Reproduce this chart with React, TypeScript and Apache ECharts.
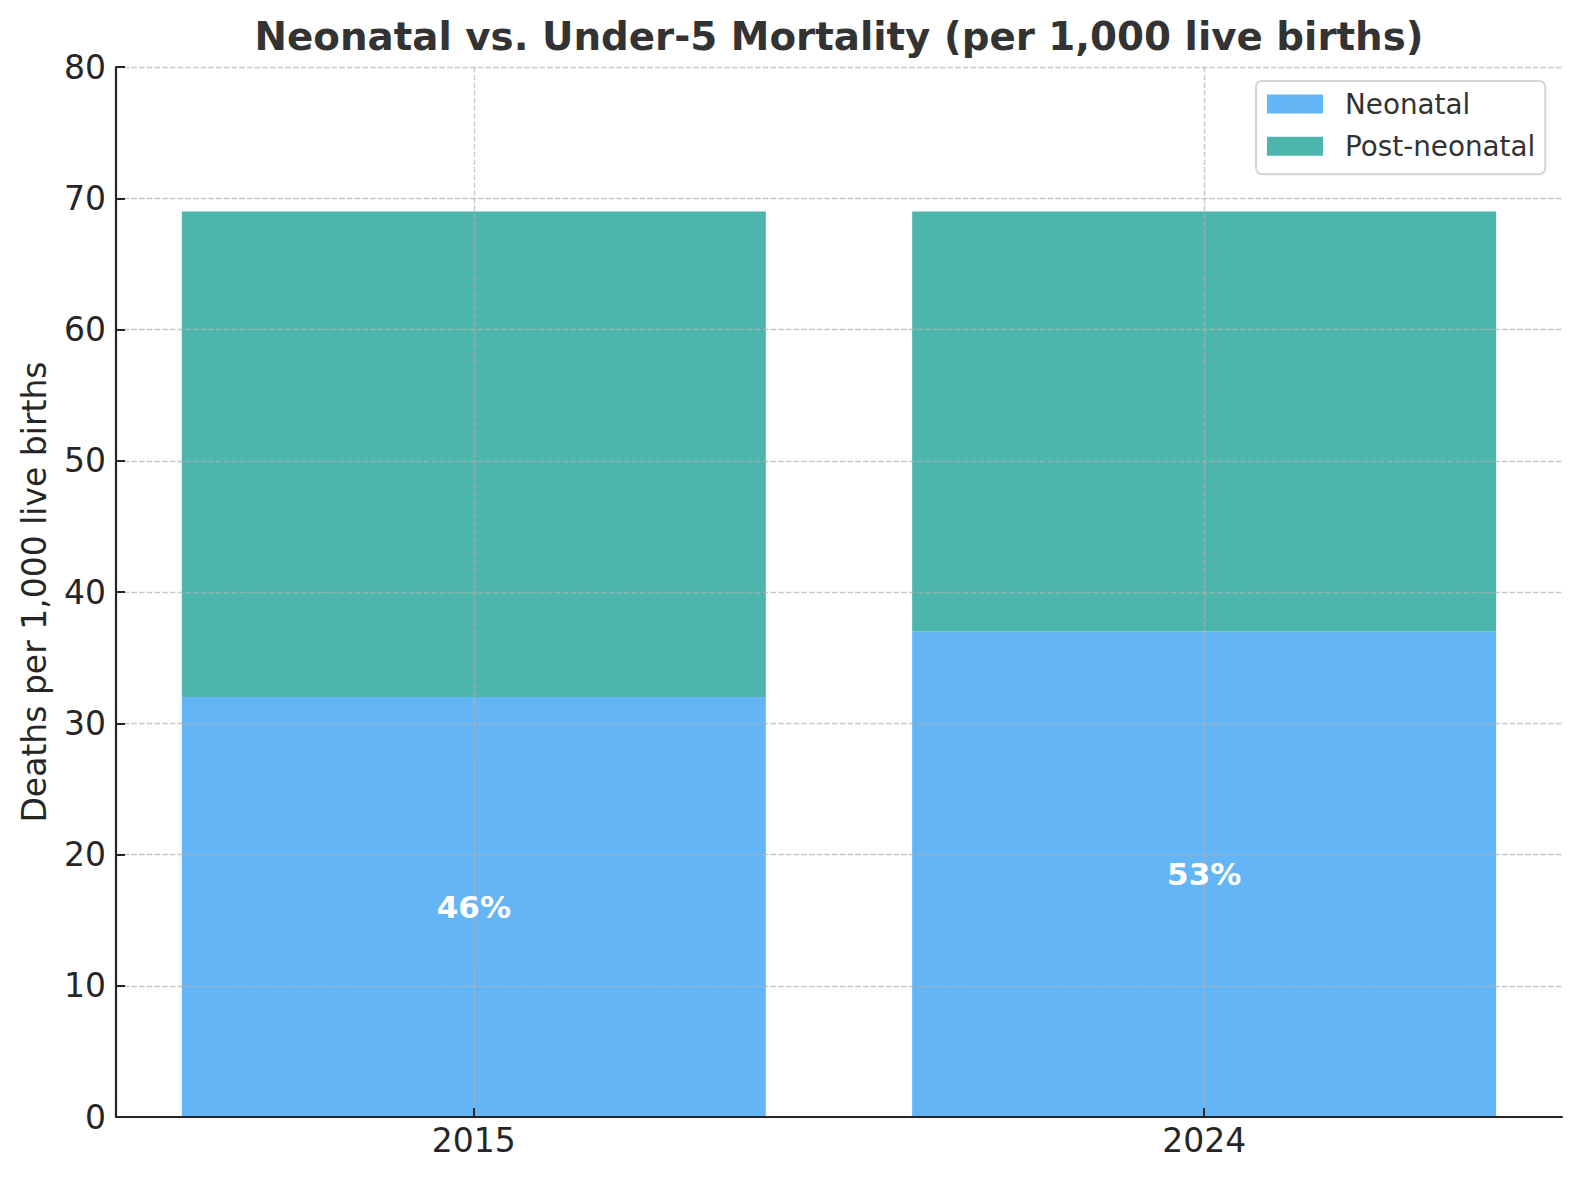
import { useEffect, useRef } from "react";
import * as echarts from "echarts";

const years = ["2015", "2024"];
const neonatal = [32, 37];
const postNeonatal = [37, 32];
const shareLabels = ["46%", "53%"];
const seriesNames = ["Neonatal", "Post-neonatal"];
const yMin = 0;
const yMax = 80;
const yStep = 10;

const FONT = "'DejaVu Sans', sans-serif";
const INK = "#262626";

export default function App() {
  const ref = useRef<HTMLDivElement>(null);

  useEffect(() => {
    const chart = echarts.init(ref.current!, null, { renderer: "svg" });
    const gridLine = {
      show: true,
      lineStyle: { color: "rgba(176,176,176,0.7)", width: 1.4, type: [5.5, 2.2] },
    };
    const axisLineStyle = { color: INK, width: 2.2 };
    const xPositions = years.map((_, i) => i);

    chart.setOption({
      animation: false,
      backgroundColor: "#ffffff",
      textStyle: { fontFamily: FONT },
      title: {
        text: "Neonatal vs. Under-5 Mortality (per 1,000 live births)",
        left: 839,
        top: 17,
        padding: 0,
        textAlign: "center",
        textVerticalAlign: "top",
        textStyle: { fontFamily: FONT, fontSize: 38.8, fontWeight: "bold", color: "#333333" },
      },
      legend: {
        orient: "vertical",
        left: 1256,
        top: 81,
        padding: [9, 10, 14, 11],
        itemWidth: 56,
        itemHeight: 19,
        itemGap: 14.3,
        icon: "rect",
        backgroundColor: "#ffffff",
        borderColor: "#d4d4d4",
        borderWidth: 2,
        borderRadius: 6,
        textStyle: { fontFamily: FONT, fontSize: 27.8, color: "#333333", lineHeight: 28, padding: [0, 0, 0, 17] },
        data: seriesNames,
      },
      grid: { left: 116, right: 18, top: 67, bottom: 63, containLabel: false },
      xAxis: {
        type: "value",
        min: -0.49,
        max: 1.49,
        z: 3,
        axisLine: { show: true, onZero: false, lineStyle: axisLineStyle },
        axisTick: { show: true, inside: true, length: 9, customValues: xPositions, lineStyle: { color: INK, width: 2 } },
        axisLabel: {
          customValues: xPositions,
          formatter: (v: number) => years[Math.round(v)] ?? "",
          fontFamily: FONT,
          fontSize: 33,
          color: INK,
          margin: 7,
        },
        splitLine: gridLine,
      },
      yAxis: {
        type: "value",
        min: yMin,
        max: yMax,
        interval: yStep,
        z: 3,
        name: "Deaths per 1,000 live births",
        nameLocation: "middle",
        nameGap: 65,
        nameRotate: 90,
        nameTextStyle: { fontFamily: FONT, fontSize: 33, color: INK },
        axisLine: { show: true, onZero: false, lineStyle: axisLineStyle },
        axisTick: { show: true, inside: true, length: 9, lineStyle: { color: INK, width: 2 } },
        axisLabel: { fontFamily: FONT, fontSize: 33, color: INK, margin: 10 },
        splitLine: gridLine,
      },
      series: [
        {
          name: seriesNames[0],
          type: "bar",
          stack: "total",
          barWidth: 584,
          itemStyle: { color: "#64B5F6" },
          encode: { x: 1, y: 0 },
          data: neonatal.map((v, i) => [v, xPositions[i]]),
        },
        {
          name: seriesNames[1],
          type: "bar",
          stack: "total",
          barWidth: 584,
          itemStyle: { color: "#4DB6AC" },
          encode: { x: 1, y: 0 },
          data: postNeonatal.map((v, i) => [v, xPositions[i]]),
        },
        {
          name: "share",
          type: "scatter",
          z: 5,
          symbolSize: 0,
          silent: true,
          itemStyle: { opacity: 1 },
          label: {
            show: true,
            position: "inside",
            formatter: (p: any) => shareLabels[p.dataIndex],
            fontFamily: FONT,
            fontSize: 31,
            fontWeight: "bold",
            color: "#ffffff",
            opacity: 1,
          },
          data: neonatal.map((v, i) => [xPositions[i], v / 2]),
        },
      ],
    });

    return () => chart.dispose();
  }, []);

  return (
    <div
      ref={ref}
      style={{ position: "fixed", left: 0, top: 0, width: 1580, height: 1180, background: "#fff" }}
    />
  );
}
